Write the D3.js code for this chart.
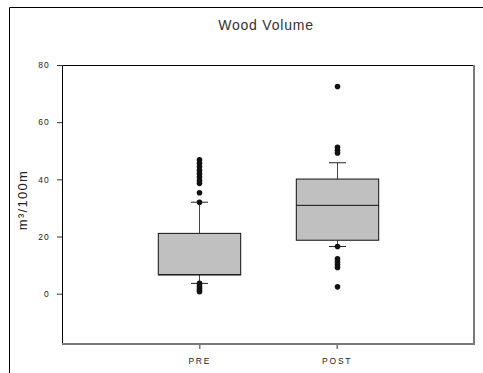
<!DOCTYPE html>
<html>
<head>
<meta charset="utf-8">
<script src="https://cdn.jsdelivr.net/npm/d3@7/dist/d3.min.js"></script>
<style>
  html, body { margin: 0; padding: 0; background: #fff; }
  svg { display: block; font-family: "Liberation Sans", Arial, sans-serif; }
</style>
</head>
<body>
<svg id="chart" width="483" height="373"></svg>
<script>
// Wood volume box plots, before and after treatment
const categories = ["PRE", "POST"];
const q1 = [6.6, 18.7];
const median = [6.6, 30.9];
const q3 = [21.1, 40.1];
const whiskerLow = [3.6, 16.5];
const whiskerHigh = [32.0, 45.8];
const outliersPre = [46.8, 45.6, 44.4, 43.2, 42.0, 40.8, 39.6, 38.6, 35.3, 32.0, 3.6, 2.8, 2.0, 1.3, 0.7];
const outliersPost = [72.5, 51.2, 50.2, 49.2, 16.5, 12.2, 11.2, 10.2, 9.2, 2.4];
const yTicks = [0, 20, 40, 60, 80];
const title = "Wood Volume";
const yLabel = "m³/100m";

const svg = d3.select("#chart");
const plotLeft = 62, plotRight = 474, plotTop = 65, plotBottom = 344;

const x = d3.scalePoint().domain(categories).range([plotLeft, plotRight]).padding(1);
const y = d3.scaleLinear().domain([-17.6, 80]).range([plotBottom, plotTop]);
const boxW = x.step() * 0.6;
const capW = 17;

// outer frame
svg.append("path")
  .attr("d", "M9.5,373V7.5H483")
  .attr("fill", "none").attr("stroke", "#000").attr("stroke-width", 1);

// title
svg.append("text")
  .attr("x", 266).attr("y", 30)
  .attr("text-anchor", "middle")
  .attr("font-size", 14).attr("letter-spacing", 0.8)
  .attr("fill", "#333")
  .text(title);

// y axis label
svg.append("text")
  .attr("transform", "translate(27,200) rotate(-90)")
  .attr("text-anchor", "middle")
  .attr("font-size", 13).attr("letter-spacing", 1.3)
  .attr("fill", "#222")
  .text(yLabel);

// plot frame: dark top/left, grey bottom/right
svg.append("path")
  .attr("d", `M${plotLeft + 0.5},${plotBottom}V${plotTop + 0.5}H${plotRight}`)
  .attr("fill", "none").attr("stroke", "#000");
svg.append("path")
  .attr("d", `M${plotLeft},${plotBottom}H${plotRight}V${plotTop}`)
  .attr("fill", "none").attr("stroke", "#7a7a7a").attr("stroke-width", 2);

// y axis
const yAxis = svg.append("g")
  .attr("transform", `translate(${plotLeft},0)`)
  .call(d3.axisLeft(y).tickValues(yTicks).tickSize(5).tickPadding(7));
yAxis.select(".domain").remove();
yAxis.selectAll(".tick line").attr("stroke", "#333");
yAxis.selectAll(".tick text")
  .attr("font-size", 8.5).attr("letter-spacing", 1.2)
  .attr("fill", "#222").attr("font-family", "Liberation Sans, Arial, sans-serif");

// x axis
const xAxis = svg.append("g")
  .attr("transform", `translate(0,${plotBottom + 1})`)
  .call(d3.axisBottom(x).tickSize(4).tickPadding(9));
xAxis.select(".domain").remove();
xAxis.selectAll(".tick line").attr("stroke", "#333");
xAxis.selectAll(".tick text")
  .attr("font-size", 8.5).attr("letter-spacing", 1.8)
  .attr("fill", "#222").attr("font-family", "Liberation Sans, Arial, sans-serif");

// boxes
const rows = categories.map((c, i) => ({
  c, q1: q1[i], med: median[i], q3: q3[i], lo: whiskerLow[i], hi: whiskerHigh[i],
  out: i === 0 ? outliersPre : outliersPost
}));

const g = svg.append("g");
rows.forEach(d => {
  const cx = Math.round(x(d.c)) + 0.5;
  // whiskers
  g.append("line").attr("x1", cx).attr("x2", cx)
    .attr("y1", y(d.q3)).attr("y2", y(d.hi)).attr("stroke", "#444");
  g.append("line").attr("x1", cx).attr("x2", cx)
    .attr("y1", y(d.q1)).attr("y2", y(d.lo)).attr("stroke", "#444");
  g.append("line").attr("x1", cx - capW / 2).attr("x2", cx + capW / 2)
    .attr("y1", y(d.hi)).attr("y2", y(d.hi)).attr("stroke", "#222");
  g.append("line").attr("x1", cx - capW / 2).attr("x2", cx + capW / 2)
    .attr("y1", y(d.lo)).attr("y2", y(d.lo)).attr("stroke", "#222");
  // box
  g.append("rect")
    .attr("x", cx - boxW / 2).attr("y", y(d.q3))
    .attr("width", boxW).attr("height", y(d.q1) - y(d.q3))
    .attr("fill", "#c0c0c0").attr("stroke", "#111");
  g.append("line").attr("x1", cx - boxW / 2).attr("x2", cx + boxW / 2)
    .attr("y1", y(d.med)).attr("y2", y(d.med)).attr("stroke", "#111");
  // outliers
  g.selectAll(null).data(d.out).enter().append("circle")
    .attr("cx", cx).attr("cy", v => y(v)).attr("r", 2.8)
    .attr("fill", "#111");
});
</script>
</body>
</html>
